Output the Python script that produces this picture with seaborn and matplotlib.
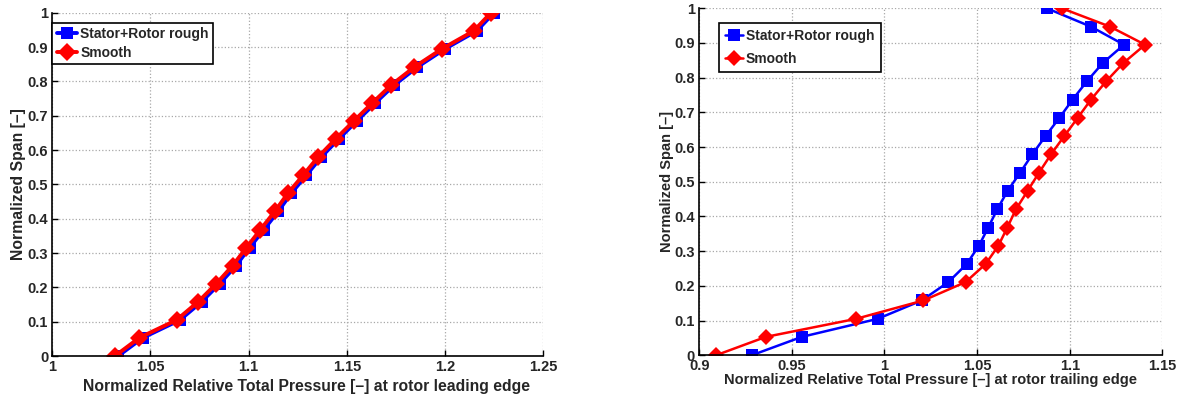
import numpy as np
import pandas as pd
import matplotlib
matplotlib.use("Agg")
import matplotlib.pyplot as plt
import seaborn as sns

# ---------------- data ----------------
span = [0.0, 0.053, 0.105, 0.158, 0.211, 0.263, 0.316, 0.368, 0.421, 0.474,
        0.526, 0.579, 0.632, 0.684, 0.737, 0.789, 0.842, 0.895, 0.947, 1.0]

le_rough = [1.0335, 1.0460, 1.0650, 1.0760, 1.0853, 1.0935, 1.1005, 1.1077, 1.1150, 1.1217,
            1.1293, 1.1369, 1.1458, 1.1550, 1.1645, 1.1741, 1.1860, 1.2001, 1.2162, 1.2250]
le_smooth = [1.0319, 1.0443, 1.0633, 1.0743, 1.0836, 1.0918, 1.0989, 1.1060, 1.1133, 1.1200,
             1.1277, 1.1353, 1.1443, 1.1535, 1.1630, 1.1726, 1.1845, 1.1986, 1.2147, 1.2235]

te_rough = [0.9283, 0.9553, 0.9963, 1.0201, 1.0345, 1.0444, 1.0510, 1.0560, 1.0609, 1.0665,
            1.0732, 1.0798, 1.0870, 1.0944, 1.1016, 1.1092, 1.1178, 1.1293, 1.1115, 1.0876]
te_smooth = [0.9090, 0.9359, 0.9846, 1.0210, 1.0438, 1.0546, 1.0615, 1.0663, 1.0710, 1.0773,
             1.0834, 1.0899, 1.0971, 1.1043, 1.1115, 1.1196, 1.1289, 1.1407, 1.1218, 1.0957]

case_names = ["Stator+Rotor rough", "Smooth"]
x_labels = ["Normalized Relative Total Pressure [–] at rotor leading edge",
            "Normalized Relative Total Pressure [–] at rotor trailing edge"]
y_label = "Normalized Span [–]"
left_xticks = [1, 1.05, 1.1, 1.15, 1.2, 1.25]
left_xticklabels = ["1", "1.05", "1.1", "1.15", "1.2", "1.25"]
right_xticks = [0.9, 0.95, 1, 1.05, 1.1, 1.15]
right_xticklabels = ["0.9", "0.95", "1", "1.05", "1.1", "1.15"]
yticks = [0, 0.1, 0.2, 0.3, 0.4, 0.5, 0.6, 0.7, 0.8, 0.9, 1]
yticklabels = ["0", "0.1", "0.2", "0.3", "0.4", "0.5", "0.6", "0.7", "0.8", "0.9", "1"]

# ---------------- style ----------------
sns.set_theme(style="white")
plt.rcParams["font.family"] = ["Liberation Sans", "DejaVu Sans"]
plt.rcParams["font.weight"] = "bold"
plt.rcParams["axes.labelweight"] = "bold"

palette = {case_names[0]: "#0000ff", case_names[1]: "#ff0000"}
markers = {case_names[0]: "s", case_names[1]: "D"}

fig = plt.figure(figsize=(11.87, 3.98), dpi=100)
ax1 = fig.add_axes([0.0441, 0.1055, 0.4134, 0.8626])
ax2 = fig.add_axes([0.5891, 0.1073, 0.3901, 0.8719])


def make_df(rough, smooth):
    return pd.DataFrame({
        "pressure": list(rough) + list(smooth),
        "span": list(span) + list(span),
        "case": [case_names[0]] * len(rough) + [case_names[1]] * len(smooth),
    })


def draw(ax, df, lw, ms, xlim, xticks, xticklabels, xlabel, leg_anchor,
         leg_spacing, leg_pad, xpad, ypad, hlen, lab_fs):
    sns.lineplot(data=df, x="pressure", y="span", hue="case", style="case",
                 palette=palette, markers=markers, dashes=False,
                 estimator=None, sort=False, linewidth=lw, markersize=ms,
                 markeredgewidth=0, ax=ax)
    ax.set_xlim(*xlim)
    ax.set_ylim(0, 1)
    ax.set_xticks(xticks)
    ax.set_xticklabels(xticklabels)
    ax.set_yticks(yticks)
    ax.set_yticklabels(yticklabels)
    ax.set_xlabel(xlabel, fontsize=lab_fs, fontweight="bold", labelpad=xpad)
    ax.set_ylabel(y_label, fontsize=lab_fs, fontweight="bold", labelpad=ypad)
    ax.tick_params(axis="both", direction="in", length=4, width=1, color="black",
                   labelsize=10.5, pad=3, bottom=True, left=True)
    for lab in ax.get_xticklabels() + ax.get_yticklabels():
        lab.set_fontweight("bold")
    ax.grid(True, linestyle=":", color="#a8a8a8", linewidth=0.9)
    for side in ["top", "right"]:
        ax.spines[side].set_visible(False)
    for side in ["left", "bottom"]:
        ax.spines[side].set_color("black")
        ax.spines[side].set_linewidth(1.2)
    leg = ax.legend(loc="upper left", bbox_to_anchor=leg_anchor, borderaxespad=0,
                    frameon=True, fancybox=False, handlelength=hlen,
                    handletextpad=0.2, borderpad=leg_pad, labelspacing=leg_spacing,
                    prop={"weight": "bold", "size": 10.0})
    leg.get_frame().set_edgecolor("black")
    leg.get_frame().set_linewidth(1.2)
    leg.get_frame().set_alpha(1)


draw(ax1, make_df(le_rough, le_smooth), 2.8, 9, (1, 1.25),
     left_xticks, left_xticklabels, x_labels[0], (0.0, 0.971), 0.37, 0.3, 4, 1, 1.5, 11.3)
ax1.xaxis.set_label_coords(0.518, -0.066)
draw(ax2, make_df(te_rough, te_smooth), 1.8, 8, (0.9, 1.15),
     right_xticks, right_xticklabels, x_labels[1], (0.0425, 0.958), 0.65, 0.45, 0, 0, 1.3, 10.5)

fig.savefig("out.png", dpi=100)
